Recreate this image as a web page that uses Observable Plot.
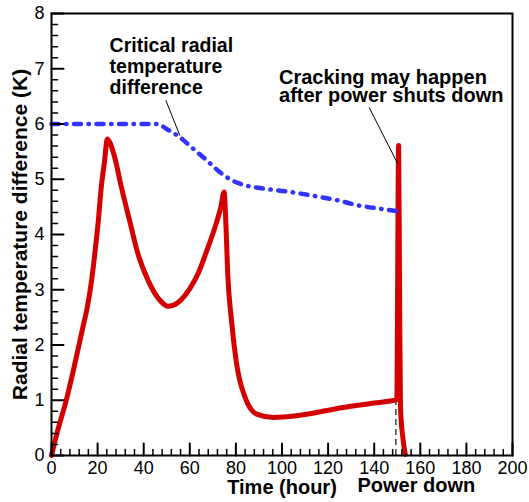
<!DOCTYPE html>
<html>
<head>
<meta charset="utf-8">
<script src="https://cdn.jsdelivr.net/npm/d3@7"></script>
<script src="https://cdn.jsdelivr.net/npm/@observablehq/plot@0.6"></script>
<style>
  html, body { margin: 0; padding: 0; background: #fff; }
  #chart svg { display: block; }
</style>
</head>
<body>
<div id="chart"></div>
<script>
// Red curve: radial temperature difference (K) vs time (hour)
const redTime = [0, 3, 6.4, 9, 11.4, 13.5, 15.6, 17.5, 18.7, 20.2, 21.6, 23, 24.2, 25.5, 27.4, 30.3, 33.9, 37.5, 41.9, 47, 50.6, 54.9, 60, 64, 67.3, 71.6, 73.5, 74.9, 75.7, 76.4, 78.1, 80.3, 83.9, 89, 96.2, 106.4, 126.5, 140, 149.8, 150.6, 151.0, 151.4, 152.5, 153.5];
const redValue = [0, 0.5, 1.0, 1.45, 1.9, 2.3, 2.7, 3.2, 3.62, 4.2, 4.86, 5.32, 5.73, 5.65, 5.40, 4.86, 4.25, 3.65, 3.17, 2.81, 2.70, 2.77, 3.02, 3.33, 3.70, 4.22, 4.5, 4.77, 4.15, 3.35, 2.44, 1.66, 1.06, 0.75, 0.69, 0.72, 0.87, 0.95, 1.01, 5.61, 3.0, 0.87, 0.3, 0.02];

// Blue dash-dot curve: critical radial temperature difference
const blueTime = [0, 20, 46, 49.9, 55.7, 60.7, 67.4, 73, 77.4, 81.7, 90.4, 102, 112.2, 124, 133.9, 142, 150.6];
const blueValue = [6, 6, 6, 5.91, 5.76, 5.58, 5.34, 5.13, 5.0, 4.92, 4.84, 4.78, 4.71, 4.62, 4.52, 4.47, 4.42];

// Ticks
const xMajorTicks = [0, 20, 40, 60, 80, 100, 120, 140, 160, 180, 200];
const xMinorTicks = [4, 8, 12, 16, 24, 28, 32, 36, 44, 48, 52, 56, 64, 68, 72, 76, 84, 88, 92, 96, 104, 108, 112, 116, 124, 128, 132, 136, 144, 148, 152, 156, 164, 168, 172, 176, 184, 188, 192, 196];
const yMajorTicks = [0, 1, 2, 3, 4, 5, 6, 7, 8];
const yMinorTicks = [0.2, 0.4, 0.6, 0.8, 1.2, 1.4, 1.6, 1.8, 2.2, 2.4, 2.6, 2.8, 3.2, 3.4, 3.6, 3.8, 4.2, 4.4, 4.6, 4.8, 5.2, 5.4, 5.6, 5.8, 6.2, 6.4, 6.6, 6.8, 7.2, 7.4, 7.6, 7.8];

// Power-down marker
const powerDownTime = [149.4];
const powerDownLevel = [1.0];

// Annotations
const annotationTexts = ["Critical radial\ntemperature\ndifference", "Cracking may happen\nafter power shuts down"];
const annotationTime = [25.2, 98.7];
const annotationValue = [6.55, 6.39];
const leaderFrom = [[49.6, 6.43], [137.8, 6.30]];
const leaderTo = [[55.7, 5.79], [150.1, 5.29]];

const xTitles = ["Time (hour)", "Power down"];
const xTitleTime = [100, 158.3];
const yTitle = "Radial temperature difference (K)";

const red = redTime.map((t, i) => ({t, v: redValue[i]}));
const blue = blueTime.map((t, i) => ({t, v: blueValue[i]}));
const leaders = leaderFrom.map((f, i) => ({x1: f[0], y1: f[1], x2: leaderTo[i][0], y2: leaderTo[i][1]}));
const ann = annotationTexts.map((text, i) => ({text, t: annotationTime[i], v: annotationValue[i]}));

const sans = "'Liberation Sans', Arial, Helvetica, sans-serif";
const narrow = "'Liberation Sans Narrow', 'Arial Narrow', 'Liberation Sans', Arial, sans-serif";

const W = 529, H = 502, mL = 51, mR = 17, mT = 13, mB = 47;
const xDomain = [0, 200], yDomain = [0, 8];
const frameW = W - mL - mR, frameH = H - mT - mB;
// tick lengths in pixels, converted to data units along the other axis
const majorLen = 12, minorLen = 6;
const yPerPx = (yDomain[1] - yDomain[0]) / frameH;
const xPerPx = (xDomain[1] - xDomain[0]) / frameW;

// each tick as its own short two-point line (z groups them)
const xTickSegs = [
  ...xMajorTicks.flatMap((t, i) => [{id: "M" + i, x: t, y: 0, w: 2}, {id: "M" + i, x: t, y: majorLen * yPerPx, w: 2}]),
  ...xMinorTicks.flatMap((t, i) => [{id: "m" + i, x: t, y: 0, w: 1.5}, {id: "m" + i, x: t, y: minorLen * yPerPx, w: 1.5}])
];
const yTickSegs = [
  ...yMajorTicks.flatMap((v, i) => [{id: "M" + i, x: 0, y: v, w: 2}, {id: "M" + i, x: majorLen * xPerPx, y: v, w: 2}]),
  ...yMinorTicks.flatMap((v, i) => [{id: "m" + i, x: 0, y: v, w: 1.5}, {id: "m" + i, x: minorLen * xPerPx, y: v, w: 1.5}])
];

const chart = Plot.plot({
  width: W,
  height: H,
  marginLeft: mL,
  marginRight: mR,
  marginTop: mT,
  marginBottom: mB,
  style: {fontFamily: sans, background: "#fff", color: "#000", overflow: "visible"},
  x: {domain: xDomain, label: null},
  y: {domain: yDomain, label: null},
  marks: [
    // tick labels
    Plot.axisX(xMajorTicks, {tickSize: 0, tickPadding: 6, fontSize: 18, fontFamily: narrow, label: null, tickFormat: d => d}),
    Plot.axisY(yMajorTicks, {tickSize: 0, tickPadding: 7, fontSize: 18, fontFamily: narrow, label: null, tickFormat: d => d}),
    // power down dashed marker
    Plot.ruleX(powerDownTime, {x: d => d, y1: 0, y2: powerDownLevel[0], stroke: "#222", strokeWidth: 1.3, strokeDasharray: "6,4"}),
    // curves
    Plot.line(red, {x: "t", y: "v", stroke: "#d40000", strokeWidth: 5, curve: "monotone-x", strokeLinejoin: "round", strokeLinecap: "round"}),
    Plot.line(blue, {x: "t", y: "v", stroke: "#3333ff", strokeWidth: 4.5, curve: "monotone-x", strokeLinecap: "round", strokeDasharray: "7,7.5,0.5,7.5"}),
    // leaders
    Plot.link(leaders, {x1: "x1", y1: "y1", x2: "x2", y2: "y2", stroke: "#000", strokeWidth: 1}),
    // annotations
    Plot.text([ann[0]], {x: "t", y: "v", text: "text", textAnchor: "start", lineAnchor: "bottom", lineHeight: 1.07, fontSize: 19.5, fontWeight: "bold", fill: "#000"}),
    Plot.text([ann[1]], {x: "t", y: "v", text: "text", textAnchor: "start", lineAnchor: "bottom", lineHeight: 0.92, fontSize: 20, fontWeight: "bold", fill: "#000"}),
    // axis titles
    Plot.text([xTitles[0]], {x: [xTitleTime[0]], text: d => d, frameAnchor: "bottom", dy: 38, lineAnchor: "bottom", fontSize: 20, fontWeight: "bold", fill: "#000"}),
    Plot.text([xTitles[1]], {x: [xTitleTime[1]], text: d => d, frameAnchor: "bottom", dy: 36, lineAnchor: "bottom", fontSize: 20, fontWeight: "bold", fill: "#000"}),
    Plot.text([yTitle], {y: [4], text: d => d, frameAnchor: "left", dx: -31, rotate: -90, textAnchor: "middle", lineAnchor: "middle", fontSize: 21, fontWeight: "bold", fill: "#000"}),
    Plot.frame({stroke: "#000", strokeWidth: 2}),
    // inward ticks drawn as short line segments
    Plot.line(xTickSegs, {x: "x", y: "y", z: "id", stroke: "#000", strokeWidth: "w"}),
    Plot.line(yTickSegs, {x: "x", y: "y", z: "id", stroke: "#000", strokeWidth: "w"})
  ]
});
document.getElementById("chart").appendChild(chart);
</script>
</body>
</html>
